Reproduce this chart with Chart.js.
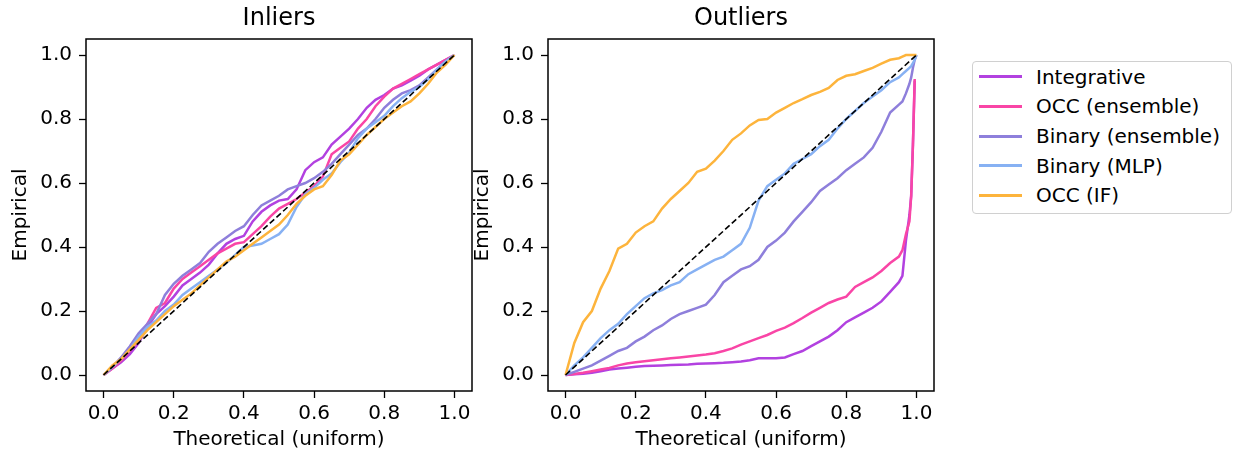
<!DOCTYPE html>
<html>
<head>
<meta charset="utf-8">
<title>Calibration of conformal p-values</title>
<script src="https://cdn.jsdelivr.net/npm/chart.js@4.4.1/dist/chart.umd.min.js"></script>
<style>
  body {
    margin: 0;
    width: 1235px;
    height: 454px;
    position: relative;
    overflow: hidden;
    background: #fff;
    font-family: "DejaVu Sans", sans-serif;
  }
  canvas { position: absolute; top: 0; }
  #inChart { left: 0; }
  #outChart { left: 462px; }
  #legend {
    position: absolute;
    left: 972px;
    top: 61px;
    width: 258px;
    height: 151px;
    border: 1px solid #d0d0d0;
    border-radius: 4px;
    font-size: 20px;
    color: #000;
  }
  #legend .row { display: flex; align-items: center; height: 29.65px; }
  #legend .swatch { width: 43px; height: 3px; margin-left: 6px; margin-right: 14px; }
</style>
</head>
<body>
<canvas id="inChart" width="476" height="454"></canvas>
<canvas id="outChart" width="476" height="454"></canvas>
<div id="legend"></div>
<script>
const seriesLabels = ["Integrative", "OCC (ensemble)", "Binary (ensemble)", "Binary (MLP)", "OCC (IF)"];
const seriesColors = ["#b241e0", "#f945a6", "#8e7fdb", "#87b1f3", "#fdb43c"];
const tickValues = [0, 0.2, 0.4, 0.6, 0.8, 1.0];
const diagonal = [0, 1];

// inliers: theoretical quantiles
const inGrid = [0, 0.025, 0.05, 0.075, 0.1, 0.125, 0.15, 0.175, 0.2, 0.225, 0.25, 0.275, 0.3, 0.325,
  0.35, 0.375, 0.4, 0.425, 0.45, 0.475, 0.5, 0.525, 0.55, 0.575, 0.6, 0.625, 0.65, 0.675, 0.7,
  0.725, 0.75, 0.775, 0.8, 0.825, 0.85, 0.875, 0.9, 0.925, 0.95, 0.975, 1];
const inIntegrative = [0, 0.02, 0.04, 0.065, 0.1, 0.15, 0.19, 0.215, 0.245, 0.28, 0.3, 0.32, 0.345, 0.38,
  0.41, 0.425, 0.435, 0.48, 0.51, 0.53, 0.545, 0.55, 0.58, 0.64, 0.665, 0.68, 0.72, 0.745, 0.77,
  0.8, 0.835, 0.86, 0.875, 0.895, 0.905, 0.92, 0.935, 0.955, 0.97, 0.985, 1];
const inOccEnsemble = [0, 0.02, 0.045, 0.075, 0.11, 0.16, 0.21, 0.225, 0.27, 0.3, 0.32, 0.34, 0.36, 0.38,
  0.395, 0.41, 0.415, 0.44, 0.465, 0.495, 0.52, 0.535, 0.55, 0.57, 0.59, 0.62, 0.69, 0.71, 0.73,
  0.77, 0.8, 0.84, 0.87, 0.895, 0.91, 0.925, 0.94, 0.955, 0.97, 0.985, 1];
const inBinaryEnsemble = [0, 0.025, 0.055, 0.09, 0.13, 0.16, 0.19, 0.25, 0.285, 0.31, 0.33, 0.35, 0.385, 0.41,
  0.43, 0.45, 0.465, 0.5, 0.53, 0.545, 0.56, 0.58, 0.59, 0.6, 0.615, 0.635, 0.66, 0.69, 0.72,
  0.75, 0.77, 0.8, 0.835, 0.86, 0.88, 0.89, 0.905, 0.93, 0.955, 0.98, 1];
const inBinaryMlp = [0, 0.025, 0.05, 0.08, 0.12, 0.15, 0.17, 0.2, 0.22, 0.25, 0.27, 0.29, 0.31, 0.33,
  0.35, 0.375, 0.4, 0.405, 0.41, 0.425, 0.44, 0.47, 0.525, 0.565, 0.585, 0.61, 0.63, 0.665, 0.695,
  0.74, 0.77, 0.79, 0.81, 0.84, 0.865, 0.885, 0.9, 0.925, 0.955, 0.98, 1];
const inOccIf = [0, 0.03, 0.05, 0.08, 0.11, 0.14, 0.165, 0.19, 0.215, 0.235, 0.255, 0.28, 0.305, 0.33,
  0.355, 0.37, 0.39, 0.41, 0.43, 0.45, 0.47, 0.5, 0.535, 0.56, 0.58, 0.59, 0.625, 0.67, 0.69,
  0.72, 0.75, 0.775, 0.8, 0.82, 0.84, 0.855, 0.88, 0.91, 0.945, 0.97, 1];

// outliers: denser near 1 where the curves shoot up
const outGrid = [0, 0.025, 0.05, 0.075, 0.1, 0.125, 0.15, 0.175, 0.2, 0.225, 0.25, 0.275, 0.3, 0.325,
  0.35, 0.375, 0.4, 0.425, 0.45, 0.475, 0.5, 0.525, 0.55, 0.575, 0.6, 0.625, 0.65, 0.675, 0.7,
  0.725, 0.75, 0.775, 0.8, 0.825, 0.85, 0.875, 0.9, 0.925, 0.95, 0.96, 0.97, 0.98, 0.985, 0.99, 0.995, 1];
const outIntegrative = [0, 0.002, 0.004, 0.007, 0.012, 0.017, 0.02, 0.023, 0.026, 0.028, 0.029, 0.03, 0.031, 0.032,
  0.033, 0.035, 0.036, 0.037, 0.038, 0.04, 0.042, 0.046, 0.052, 0.052, 0.052, 0.055, 0.065, 0.075, 0.09,
  0.105, 0.12, 0.14, 0.165, 0.18, 0.195, 0.21, 0.23, 0.26, 0.29, 0.31, 0.42, 0.5, 0.56, 0.72, 0.92, null];
const outOccEnsemble = [0, 0.003, 0.007, 0.012, 0.017, 0.022, 0.03, 0.036, 0.04, 0.043, 0.046, 0.049, 0.052, 0.055,
  0.058, 0.061, 0.064, 0.068, 0.075, 0.083, 0.095, 0.105, 0.115, 0.125, 0.138, 0.148, 0.162, 0.178, 0.195,
  0.21, 0.225, 0.236, 0.245, 0.275, 0.29, 0.305, 0.325, 0.35, 0.37, 0.39, 0.44, 0.48, 0.56, 0.72, 0.925, null];
const outBinaryEnsemble = [0, 0.01, 0.02, 0.03, 0.045, 0.06, 0.075, 0.085, 0.105, 0.12, 0.14, 0.155, 0.175, 0.19,
  0.2, 0.21, 0.22, 0.25, 0.29, 0.31, 0.33, 0.34, 0.36, 0.4, 0.42, 0.445, 0.48, 0.51, 0.54,
  0.575, 0.595, 0.615, 0.64, 0.66, 0.68, 0.71, 0.76, 0.82, 0.845, 0.855, 0.88, 0.91, 0.93, 0.96, 0.985, 1];
const outBinaryMlp = [0, 0.03, 0.055, 0.085, 0.115, 0.14, 0.16, 0.19, 0.215, 0.24, 0.255, 0.265, 0.28, 0.29,
  0.315, 0.33, 0.345, 0.36, 0.37, 0.39, 0.41, 0.46, 0.545, 0.59, 0.61, 0.63, 0.66, 0.675, 0.69,
  0.715, 0.735, 0.77, 0.8, 0.825, 0.85, 0.87, 0.89, 0.915, 0.93, 0.94, 0.95, 0.96, 0.965, 0.975, 0.985, 1];
const outOccIf = [0, 0.1, 0.165, 0.2, 0.27, 0.325, 0.395, 0.41, 0.445, 0.465, 0.48, 0.52, 0.55, 0.575,
  0.6, 0.635, 0.645, 0.67, 0.7, 0.735, 0.755, 0.78, 0.797, 0.8, 0.82, 0.835, 0.85, 0.862, 0.875,
  0.885, 0.897, 0.922, 0.935, 0.94, 0.95, 0.96, 0.973, 0.985, 0.99, 0.995, 1, 1, 1, 1, 1, 1];

function toPoints(xs, ys) {
  return xs.map((x, i) => ({ x: x, y: ys[i] })).filter((p) => p.y !== null);
}

// spines all round the plot area
const framePlugin = {
  id: "frame",
  afterDraw(chart) {
    const { ctx, chartArea: a } = chart;
    ctx.save();
    ctx.strokeStyle = "#000";
    ctx.lineWidth = 1.5;
    ctx.strokeRect(a.left, a.top, a.right - a.left, a.bottom - a.top);
    ctx.restore();
  },
};

function axisOptions(titleText, isX) {
  return {
    type: "linear",
    min: -0.05,
    max: 1.05,
    afterBuildTicks(scale) {
      scale.ticks = tickValues.map((v) => ({ value: v }));
    },
    afterFit(scale) {
      if (isX) scale.height = 63;
      else scale.width = 86;
    },
    grid: {
      display: true,
      drawOnChartArea: false,
      drawTicks: true,
      tickLength: 7,
      tickColor: "#000",
      tickWidth: 1.3,
    },
    border: { display: false },
    ticks: {
      color: "#000",
      padding: isX ? 4 : 7,
      font: { family: "DejaVu Sans", size: 20 },
      callback: (v) => Number(v).toFixed(1),
    },
    title: {
      display: true,
      text: titleText,
      color: "#000",
      font: { family: "DejaVu Sans", size: 20 },
      padding: isX ? { top: 0, bottom: 2.5 } : { top: 9, bottom: 0 },
    },
  };
}

function makeQQChart(canvasId, titleText, grid, series) {
  const datasets = series.map((ys, i) => ({
    label: seriesLabels[i],
    data: toPoints(grid, ys),
    borderColor: seriesColors[i],
    borderWidth: 2.5,
    pointRadius: 0,
    tension: 0,
    fill: false,
    order: series.length - i,
  }));
  datasets.push({
    label: "y = x",
    data: toPoints(diagonal, diagonal),
    borderColor: "#000",
    borderWidth: 1.6,
    borderDash: [6, 3],
    pointRadius: 0,
    fill: false,
    order: 0,
  });

  return new Chart(document.getElementById(canvasId), {
    type: "line",
    data: { datasets: datasets },
    options: {
      responsive: false,
      animation: false,
      devicePixelRatio: 1,
      layout: { autoPadding: false, padding: { right: 4 } },
      plugins: {
        legend: { display: false },
        tooltip: { enabled: false },
        title: {
          display: true,
          text: titleText,
          fullSize: false,
          color: "#000",
          font: { family: "DejaVu Sans", size: 24, weight: "normal" },
          padding: { top: 4, bottom: 6.2 },
        },
      },
      scales: {
        x: axisOptions("Theoretical (uniform)", true),
        y: axisOptions("Empirical", false),
      },
    },
    plugins: [framePlugin],
  });
}

makeQQChart("inChart", "Inliers", inGrid,
  [inIntegrative, inOccEnsemble, inBinaryEnsemble, inBinaryMlp, inOccIf]);
makeQQChart("outChart", "Outliers", outGrid,
  [outIntegrative, outOccEnsemble, outBinaryEnsemble, outBinaryMlp, outOccIf]);

// shared legend to the right of both panels
const legendEl = document.getElementById("legend");
seriesLabels.forEach((label, i) => {
  legendEl.insertAdjacentHTML(
    "beforeend",
    `<div class="row"><span class="swatch" style="background:${seriesColors[i]}"></span><span>${label}</span></div>`
  );
});
</script>
</body>
</html>
